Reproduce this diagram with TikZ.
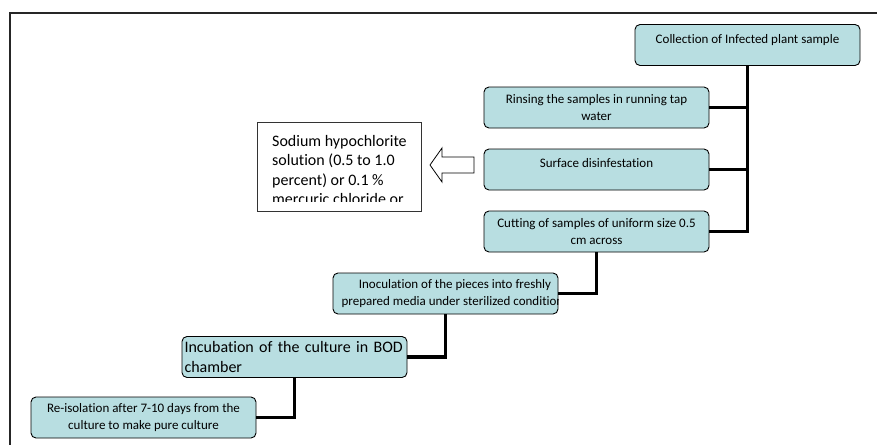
\documentclass[tikz,border=0pt]{standalone}
\usepackage{fontspec}
\setmainfont{Carlito}[Ligatures=NoCommon]
\usetikzlibrary{positioning}
\definecolor{boxteal}{RGB}{184,222,225}
\tikzset{
    stepbox/.style = {rectangle, rounded corners=5pt, draw=black, line width=0.9pt, fill=boxteal, minimum width=225pt, minimum height=41pt, inner sep=0pt, align=center, font=\fontsize{13}{17.5}\selectfont},
    bigtext/.style = {inner sep=0pt, align=left, font=\fontsize{16}{19.5}\selectfont},
    notebox/.style = {rectangle, draw=black!80, line width=0.9pt, fill=white, minimum width=164pt, minimum height=89pt, inner sep=0pt},
    link/.style = {line width=3.5pt, black},
    hollowarrow/.style = {draw=black, line width=0.8pt, fill=white},
    frame/.style = {line width=1.4pt, black!85}
}
\begin{document}
\begin{tikzpicture}[x=1pt,y=-1pt]
\useasboundingbox (0,0) rectangle (877,444);
%
\draw[frame] (10,450) -- (10,13) -- (885,13);
%
\node[stepbox] at (747.5, 45) (collect) {Collection of Infected plant sample\\[-10pt]\strut};
\node[stepbox] at (596.5,107.5) (rinse) {Rinsing the samples in running tap\\water};
\node[stepbox] at (596.5,169.5) (surface) {Surface disinfestation\\[-10pt]\strut};
\node[stepbox] at (596.5,231.5) (cut) {Cutting of samples of uniform size 0.5\\cm across};
\node[stepbox] at (445.5,293.5) (inoc) {};
\node[stepbox, align=left, text width=220pt, font=\fontsize{16}{20}\selectfont] at (294.5,357) (incub) {Incubation of the culture in BOD\\chamber};
\node[stepbox] at (143.5,417.5) (reiso) {Re-isolation after 7-10 days from the\\culture to make pure culture};
\node[notebox] at (339,166.5) (note) {};
%
\begin{scope}
\clip (inoc.south west) rectangle (inoc.north east);
\node[inner sep=0pt, align=center, font=\fontsize{13}{17.5}\selectfont] at (455,293.5) (inoctext) {Inoculation of the pieces into freshly\\prepared media under sterilized conditions};
\end{scope}
\begin{scope}
\clip (note.north west) rectangle ([yshift=10pt]note.south east);
\node[bigtext, anchor=north west] at (272,135) (notetext) {Sodium hypochlorite\\solution (0.5 to 1.0\\percent) or 0.1 \%\\mercuric chloride or};
\end{scope}
%
\draw[hollowarrow] (430,165) -- (442,148) -- (442,157) -- (474,157) -- (474,173) -- (442,173) -- (442,182) -- cycle;
%
\draw[link] (collect.south) |- (cut.east);
\draw[link] (rinse.east) -- (rinse.east -| collect.south);
\draw[link] (surface.east) -- (surface.east -| collect.south);
\draw[link] (cut.south) |- (inoc.east);
\draw[link] (inoc.south) |- (incub.east);
\draw[link] (incub.south) |- (reiso.east);

\end{tikzpicture}
\end{document}
